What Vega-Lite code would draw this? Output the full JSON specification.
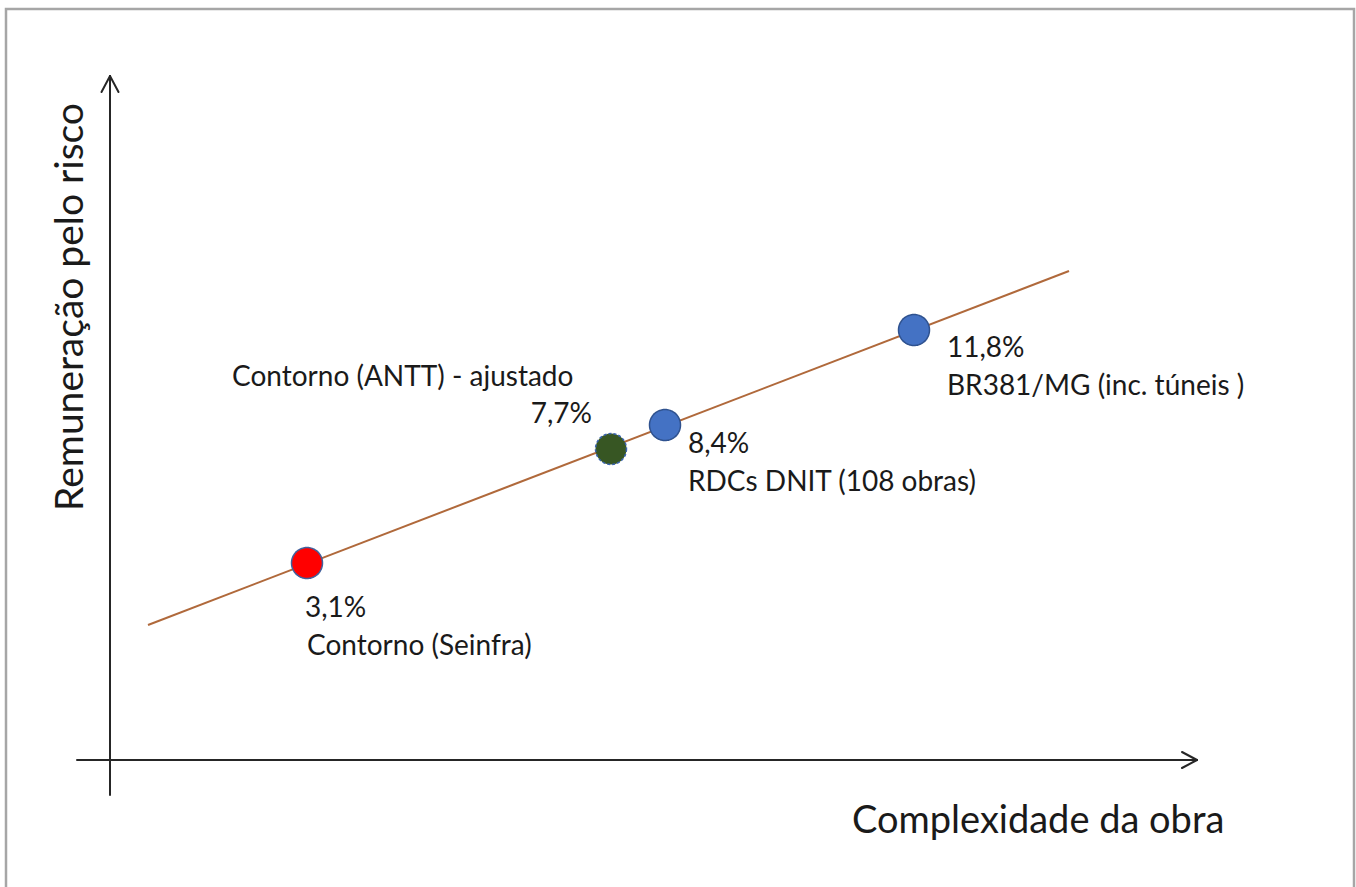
{
  "$schema": "https://vega.github.io/schema/vega-lite/v6.json",
  "width": 1356,
  "height": 887,
  "autosize": "none",
  "padding": 0,
  "background": "white",
  "config": {"view": {"stroke": null}},
  "datasets": {
    "frame": [{"x1": -10.4, "y1": 75.1, "x2": 124.4, "y2": -14}],
    "axes": [
      {"x1": 0, "y1": -3.5, "x2": 0, "y2": 68.4},
      {"x1": -3.3, "y1": 0, "x2": 108.7, "y2": 0},
      {"x1": -0.85, "y1": 66.8, "x2": 0, "y2": 68.4},
      {"x1": 0.85, "y1": 66.8, "x2": 0, "y2": 68.4},
      {"x1": 107.2, "y1": 0.8, "x2": 108.7, "y2": 0},
      {"x1": 107.2, "y1": -0.8, "x2": 108.7, "y2": 0}
    ],
    "trend": [{"x1": 3.8, "y1": 13.5, "x2": 95.9, "y2": 48.9}],
    "obras": [
      {"obra": "Contorno (Seinfra)", "complexidade": 19.7, "risco": 19.7, "grupo": "Seinfra"},
      {"obra": "Contorno (ANTT) - ajustado", "complexidade": 50.1, "risco": 31.1, "grupo": "ANTT"},
      {"obra": "RDCs DNIT (108 obras)", "complexidade": 55.5, "risco": 33.5, "grupo": "DNIT"},
      {"obra": "BR381/MG (inc. túneis )", "complexidade": 80.4, "risco": 43.0, "grupo": "DNIT"}
    ],
    "rotulos_esq": [
      {"texto": "3,1%", "x": 19.5, "y": 14.3},
      {"texto": "Contorno (Seinfra)", "x": 19.7, "y": 10.5},
      {"texto": "Contorno (ANTT) - ajustado", "x": 12.2, "y": 37.4},
      {"texto": "8,4%", "x": 57.8, "y": 30.7},
      {"texto": "RDCs DNIT (108 obras)", "x": 57.8, "y": 26.9},
      {"texto": "11,8%", "x": 83.7, "y": 40.3},
      {"texto": "BR381/MG (inc. túneis )", "x": 83.7, "y": 36.5}
    ],
    "rotulos_dir": [
      {"texto": "7,7%", "x": 48.2, "y": 33.7}
    ]
  },
  "layer": [
    {
      "data": {"name": "frame"},
      "mark": {"type": "rect", "fill": null, "stroke": "#a6a6a6", "strokeWidth": 2.5},
      "encoding": {
        "x": {"field": "x1", "type": "quantitative", "scale": {"domain": [-11, 124.6], "nice": false, "zero": false}, "axis": null},
        "x2": {"field": "x2"},
        "y": {"field": "y1", "type": "quantitative", "scale": {"domain": [-12.7, 76], "nice": false, "zero": false}, "axis": null},
        "y2": {"field": "y2"}
      }
    },
    {
      "data": {"name": "axes"},
      "mark": {"type": "rule", "stroke": "#262626", "strokeWidth": 2, "strokeCap": "round"},
      "encoding": {
        "x": {"field": "x1", "type": "quantitative"},
        "x2": {"field": "x2"},
        "y": {"field": "y1", "type": "quantitative"},
        "y2": {"field": "y2"}
      }
    },
    {
      "data": {"name": "trend"},
      "mark": {"type": "rule", "stroke": "#b0693b", "strokeWidth": 2},
      "encoding": {
        "x": {"field": "x1", "type": "quantitative"},
        "x2": {"field": "x2"},
        "y": {"field": "y1", "type": "quantitative"},
        "y2": {"field": "y2"}
      }
    },
    {
      "data": {"name": "obras"},
      "mark": {"type": "point", "shape": "circle", "filled": true, "opacity": 1, "size": 960, "strokeWidth": 1.5},
      "encoding": {
        "x": {"field": "complexidade", "type": "quantitative"},
        "y": {"field": "risco", "type": "quantitative"},
        "fill": {"field": "grupo", "type": "nominal", "scale": {"domain": ["Seinfra", "ANTT", "DNIT"], "range": ["#ff0000", "#375623", "#4472c4"]}, "legend": null},
        "stroke": {"field": "grupo", "type": "nominal", "scale": {"domain": ["Seinfra", "ANTT", "DNIT"], "range": ["#41609c", "#3a64b0", "#2f528f"]}, "legend": null},
        "strokeDash": {"field": "grupo", "type": "nominal", "scale": {"domain": ["Seinfra", "ANTT", "DNIT"], "range": [[1, 0], [3, 2], [1, 0]]}, "legend": null}
      }
    },
    {
      "data": {"name": "rotulos_esq"},
      "mark": {"type": "text", "align": "left", "baseline": "alphabetic", "font": "Lato", "fontSize": 28, "color": "#1a1a1a"},
      "encoding": {
        "x": {"field": "x", "type": "quantitative"},
        "y": {"field": "y", "type": "quantitative"},
        "text": {"field": "texto"}
      }
    },
    {
      "data": {"name": "rotulos_dir"},
      "mark": {"type": "text", "align": "right", "baseline": "alphabetic", "font": "Lato", "fontSize": 28, "color": "#1a1a1a"},
      "encoding": {
        "x": {"field": "x", "type": "quantitative"},
        "y": {"field": "y", "type": "quantitative"},
        "text": {"field": "texto"}
      }
    },
    {
      "data": {"values": [{"texto": "Complexidade da obra", "x": 74.2, "y": -7.3}]},
      "mark": {"type": "text", "align": "left", "baseline": "alphabetic", "font": "Lato", "fontSize": 38, "color": "#1a1a1a"},
      "encoding": {
        "x": {"field": "x", "type": "quantitative"},
        "y": {"field": "y", "type": "quantitative"},
        "text": {"field": "texto"}
      }
    },
    {
      "data": {"values": [{"texto": "Remuneração pelo risco", "x": -2.7, "y": 45.3}]},
      "mark": {"type": "text", "align": "center", "baseline": "alphabetic", "angle": 270, "font": "Lato", "fontSize": 39, "color": "#1a1a1a"},
      "encoding": {
        "x": {"field": "x", "type": "quantitative"},
        "y": {"field": "y", "type": "quantitative"},
        "text": {"field": "texto"}
      }
    }
  ]
}
